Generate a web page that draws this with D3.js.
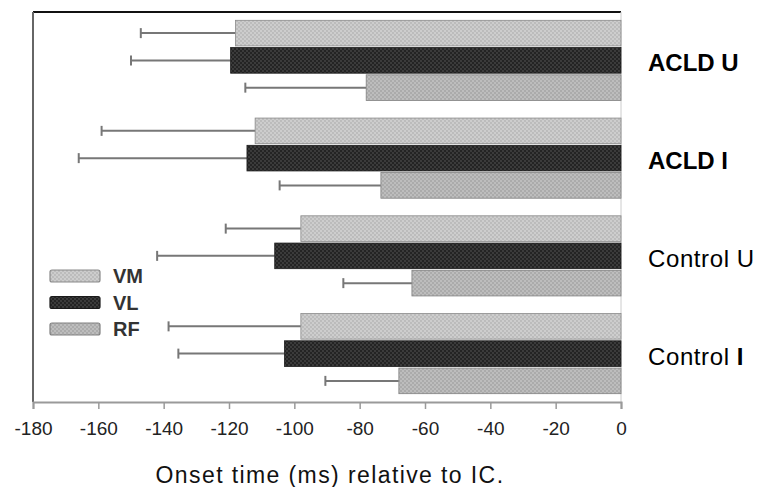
<!DOCTYPE html>
<html>
<head>
<meta charset="utf-8">
<script src="https://cdn.jsdelivr.net/npm/d3@7"></script>
<style>
  html, body { margin: 0; padding: 0; background: #fff; }
  svg { display: block; }
</style>
</head>
<body>
<svg id="chart" width="759" height="487"></svg>
<script>
const groups = ["ACLD U", "ACLD I", "Control U", "Control I"];
const series = ["VM", "VL", "RF"];
// mean onset (ms relative to IC), one value per group
const meanVM = [-118, -112, -98, -98];
const meanVL = [-119.5, -114.5, -106, -103];
const meanRF = [-78, -73.5, -64, -68];
// error bar ends (ms)
const errVM = [-147, -159, -121, -138.5];
const errVL = [-150, -166, -142, -135.5];
const errRF = [-115, -104.5, -85, -90.5];
const xTicks = [-180, -160, -140, -120, -100, -80, -60, -40, -20, 0];
const boldGroups = ["ACLD U", "ACLD I"];

const means = {VM: meanVM, VL: meanVL, RF: meanRF};
const errs = {VM: errVM, VL: errVL, RF: errRF};
const data = [];
groups.forEach((g, gi) => series.forEach(s => data.push({group: g, series: s, value: means[s][gi], err: errs[s][gi]})));

const svg = d3.select("#chart");
const x = d3.scaleLinear().domain([-180, 0]).range([33, 621]);
const y0 = d3.scaleBand().domain(groups).range([12, 402]).paddingInner(0.18).paddingOuter(0.085);
const y1 = d3.scaleBand().domain(series).range([0, y0.bandwidth()]).paddingInner(0.06);

// halftone-like patterns
const defs = svg.append("defs");
const pat = [
  {id: "pVM", base: "#cdcdcd", dot: "#b4b4b4"},
  {id: "pVL", base: "#242424", dot: "#464646"},
  {id: "pRF", base: "#ababab", dot: "#c6c6c6"}
];
pat.forEach(p => {
  const pt = defs.append("pattern").attr("id", p.id).attr("patternUnits", "userSpaceOnUse")
    .attr("width", 4).attr("height", 4);
  pt.append("rect").attr("width", 4).attr("height", 4).attr("fill", p.base);
  pt.append("circle").attr("cx", 1).attr("cy", 1).attr("r", 0.9).attr("fill", p.dot);
  pt.append("circle").attr("cx", 3).attr("cy", 3).attr("r", 0.9).attr("fill", p.dot);
});
const fillOf = {VM: "url(#pVM)", VL: "url(#pVL)", RF: "url(#pRF)"};
const strokeOf = {VM: "#8a8a8a", VL: "#1a1a1a", RF: "#808080"};

// frame lines
svg.append("line").attr("x1", x(-180)).attr("x2", x(0)).attr("y1", 12).attr("y2", 12)
  .attr("stroke", "#111").attr("stroke-width", 2);
svg.append("line").attr("x1", x(-180)).attr("x2", x(-180)).attr("y1", 12).attr("y2", 402)
  .attr("stroke", "#666").attr("stroke-width", 2);
svg.append("line").attr("x1", x(0)).attr("x2", x(0)).attr("y1", 12).attr("y2", 402)
  .attr("stroke", "#ccc").attr("stroke-width", 1);

// error bars
const eb = svg.append("g");
data.forEach(d => {
  const cy = y0(d.group) + y1(d.series) + y1.bandwidth() / 2;
  eb.append("line").attr("x1", x(d.err)).attr("x2", x(d.value)).attr("y1", cy).attr("y2", cy)
    .attr("stroke", "#777").attr("stroke-width", 2);
  eb.append("line").attr("x1", x(d.err)).attr("x2", x(d.err)).attr("y1", cy - 5).attr("y2", cy + 5)
    .attr("stroke", "#777").attr("stroke-width", 2);
});

// bars
svg.append("g").selectAll("rect").data(data).join("rect")
  .attr("x", d => x(d.value))
  .attr("y", d => y0(d.group) + y1(d.series))
  .attr("width", d => x(0) - x(d.value))
  .attr("height", y1.bandwidth())
  .attr("fill", d => fillOf[d.series])
  .attr("stroke", d => strokeOf[d.series])
  .attr("stroke-width", 0.8);

// x axis
const axis = svg.append("g").attr("transform", "translate(0,402)")
  .call(d3.axisBottom(x).tickValues(xTicks).tickSize(7).tickPadding(13).tickFormat(d => d));
axis.select(".domain").attr("stroke", "#9a9a9a").attr("stroke-width", 2);
axis.selectAll(".tick line").attr("stroke", "#9a9a9a").attr("stroke-width", 1.5);
axis.selectAll(".tick text").attr("fill", "#222")
  .style("font-family", "'Liberation Sans Narrow', 'Liberation Sans', Arial, sans-serif").style("font-size", "19px");

// x label
svg.append("text").attr("x", 330).attr("y", 483).attr("text-anchor", "middle")
  .style("font-family", "'Liberation Sans', Arial, sans-serif").style("font-size", "23px")
  .style("letter-spacing", "1.4px").attr("fill", "#111")
  .text("Onset time (ms) relative to IC.");

// group labels
groups.forEach(g => {
  const cy = y0(g) + y0.bandwidth() / 2;
  const t = svg.append("text").attr("x", 648).attr("y", cy + 11)
    .style("font-family", "'Liberation Sans', Arial, sans-serif").style("font-size", "24px")
    .attr("fill", "#000");
  if (boldGroups.includes(g)) {
    t.style("font-weight", "bold").text(g);
  } else {
    const parts = g.split(" ");
    t.style("letter-spacing", "0.6px");
    t.append("tspan").text(parts[0] + " ");
    t.append("tspan").style("font-weight", parts[1] === "I" ? "bold" : "normal").text(parts[1]);
  }
});

// legend
const lg = svg.append("g");
series.forEach((s, i) => {
  const ly = 270 + i * 26.5;
  lg.append("rect").attr("x", 50).attr("y", ly).attr("width", 50).attr("height", 12)
    .attr("fill", fillOf[s]).attr("stroke", strokeOf[s]).attr("stroke-width", 1.2).attr("rx", 2);
  lg.append("text").attr("x", 113).attr("y", ly + 13)
    .style("font-family", "'Liberation Sans', Arial, sans-serif").style("font-size", "20px")
    .style("font-weight", "bold").attr("fill", "#333").text(s);
});
</script>
</body>
</html>
